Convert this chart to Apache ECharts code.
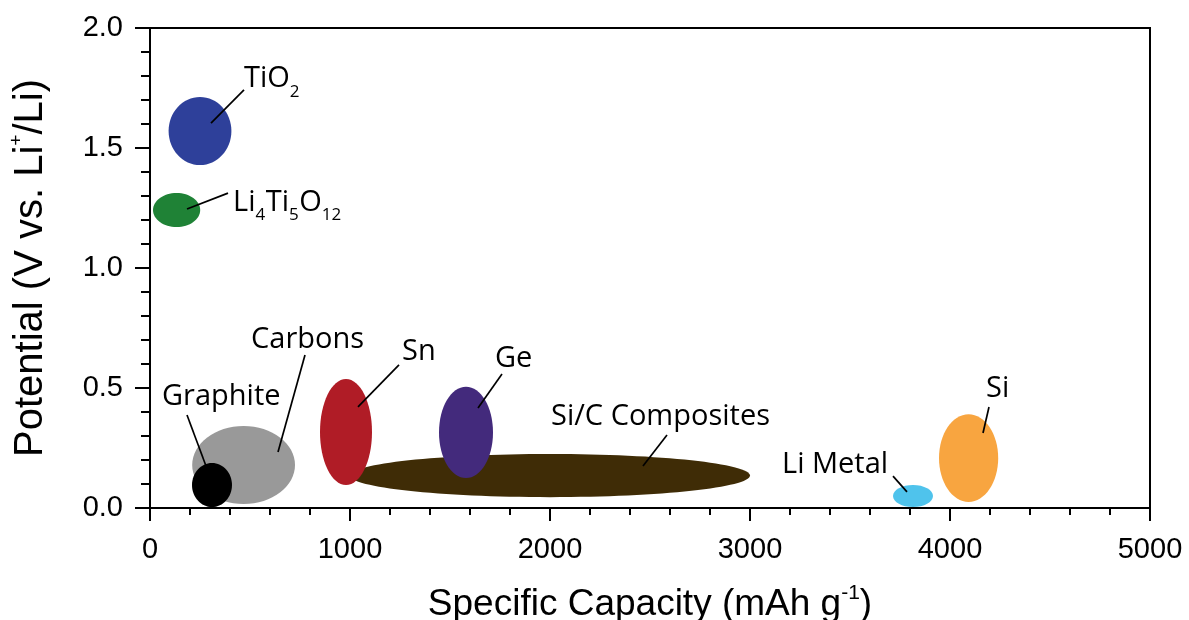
<!DOCTYPE html>
<html>
<head>
<meta charset="utf-8">
<script src="https://cdn.jsdelivr.net/npm/echarts@6/dist/echarts.min.js"></script>
<style>html,body{margin:0;padding:0;background:#fff}#c{width:1189px;height:620px}</style>
</head>
<body>
<div id="c"></div>
<script>
// ---- data (mAh/g, V vs Li+/Li) ----
const materials = ['Carbons', 'Graphite', 'Si/C Composites', 'Sn', 'Ge', 'TiO2', 'Li4Ti5O12', 'Li Metal', 'Si'];
const centerCapacity = [468, 310, 2000, 980, 1580, 250, 133, 3815, 4093];
const centerPotential = [0.179, 0.096, 0.135, 0.317, 0.315, 1.571, 1.242, 0.050, 0.208];
const capacityHalfRange = [257, 100, 1000, 130, 135, 157, 118, 100, 148];
const potentialHalfRange = [0.1625, 0.092, 0.090, 0.221, 0.190, 0.142, 0.071, 0.046, 0.183];

const labelTexts = ['Carbons', 'Graphite', 'Si/C Composites', 'Sn', 'Ge', 'TiO_{2}', 'Li_{4}Ti_{5}O_{12}', 'Li Metal', 'Si'];
const labelCapacity = [505, 60, 2005, 1260, 1725, 470, 415, 3160, 4180];
const labelPotential = [0.700, 0.4625, 0.379, 0.650, 0.621, 1.7875, 1.273, 0.179, 0.496];
const leaderStartCapacity = [775, 185, 2585, 1245, 1760, 470, 390, 3715, 4195];
const leaderStartPotential = [0.6375, 0.3875, 0.304, 0.596, 0.558, 1.742, 1.312, 0.133, 0.421];
const leaderEndCapacity = [640, 280, 2465, 1040, 1640, 305, 185, 3785, 4165];
const leaderEndPotential = [0.233, 0.175, 0.175, 0.421, 0.417, 1.604, 1.246, 0.067, 0.3125];

const xTicks = [0, 1000, 2000, 3000, 4000, 5000];
const yTicks = [0.0, 0.5, 1.0, 1.5, 2.0];

// ---- styles ----
const palette = ['#999999', '#000000', '#3f2c06', '#b01c26', '#432a7c', '#2e409a', '#1f8236', '#4fc3ec', '#f8a540'];
const annFont = 'Open Sans';
const annSize = 29;
const subSize = 17;
const subDrop = 13;

const measureCtx = document.createElement('canvas').getContext('2d');
function textWidth(t, size) {
  measureCtx.font = size + 'px "' + annFont + '"';
  return measureCtx.measureText(t).width;
}
function splitLabel(s) {
  const parts = [];
  const re = /_\{([^}]*)\}/g;
  let last = 0, m;
  while ((m = re.exec(s))) {
    if (m.index > last) parts.push([s.slice(last, m.index), false]);
    parts.push([m[1], true]);
    last = re.lastIndex;
  }
  if (last < s.length) parts.push([s.slice(last), false]);
  return parts;
}

const ellipseData = materials.map((m, i) => [centerCapacity[i], centerPotential[i], capacityHalfRange[i], potentialHalfRange[i]]);
const leaderData = materials.map((m, i) => [leaderStartCapacity[i], leaderStartPotential[i], leaderEndCapacity[i], leaderEndPotential[i]]);
const labelData = materials.map((m, i) => [labelCapacity[i], labelPotential[i], i]);

const chart = echarts.init(document.getElementById('c'), null, {renderer: 'canvas'});
chart.setOption({
  animation: false,
  backgroundColor: '#fff',
  grid: {left: 150, right: 39, top: 28, bottom: 112, containLabel: false, outerBoundsMode: 'none',
    show: true, borderColor: '#000', borderWidth: 2, backgroundColor: 'transparent'},
  xAxis: {
    type: 'value', min: xTicks[0], max: xTicks[xTicks.length - 1], interval: 1000,
    name: 'Specific Capacity (mAh g{sup|-1})', nameLocation: 'middle', nameGap: 75,
    nameTextStyle: {fontFamily: 'Liberation Sans', fontSize: 37, color: '#000', lineHeight: 44,
      rich: {sup: {fontFamily: 'Liberation Sans', fontSize: 21, color: '#000', verticalAlign: 'top', lineHeight: 14}}},
    axisLine: {show: true, lineStyle: {color: '#000', width: 2}},
    axisTick: {show: true, inside: false, length: 13, lineStyle: {color: '#000', width: 2}},
    minorTick: {show: true, splitNumber: 5, length: 7, lineStyle: {color: '#000', width: 2}},
    splitLine: {show: false},
    axisLabel: {fontFamily: 'Liberation Sans', fontSize: 29, color: '#000', margin: 27,
      formatter: v => String(v)}
  },
  yAxis: {
    type: 'value', min: yTicks[0], max: yTicks[yTicks.length - 1], interval: 0.5,
    name: 'Potential (V vs. Li{sup|+}/Li)', nameLocation: 'middle', nameGap: 95,
    nameTextStyle: {fontFamily: 'Liberation Sans', fontSize: 40, color: '#000', lineHeight: 48,
      rich: {sup: {fontFamily: 'Liberation Sans', fontSize: 19, color: '#000', verticalAlign: 'top', lineHeight: 14}}},
    axisLine: {show: true, lineStyle: {color: '#000', width: 2}},
    axisTick: {show: true, inside: false, length: 15, lineStyle: {color: '#000', width: 2}},
    minorTick: {show: true, splitNumber: 5, length: 9, lineStyle: {color: '#000', width: 2}},
    splitLine: {show: false},
    axisLabel: {fontFamily: 'Liberation Sans', fontSize: 29, color: '#000', margin: 27,
      formatter: v => v.toFixed(1)}
  },
  series: [
    {
      type: 'custom', name: 'regions', clip: false, z: 2,
      data: ellipseData,
      encode: {x: 0, y: 1},
      renderItem: (params, api) => {
        const c = api.coord([api.value(0), api.value(1)]);
        const s = api.size([api.value(2), api.value(3)]);
        return {type: 'ellipse', shape: {cx: c[0], cy: c[1], rx: s[0], ry: s[1]},
          style: {fill: palette[params.dataIndex]}};
      }
    },
    {
      type: 'custom', name: 'leaders', clip: false, z: 3,
      data: leaderData,
      encode: {x: [0, 2], y: [1, 3]},
      renderItem: (params, api) => {
        const a = api.coord([api.value(0), api.value(1)]);
        const b = api.coord([api.value(2), api.value(3)]);
        return {type: 'line', shape: {x1: a[0], y1: a[1], x2: b[0], y2: b[1]},
          style: {stroke: '#000', lineWidth: 1.7}};
      }
    },
    {
      type: 'custom', name: 'labels', clip: false, z: 4,
      data: labelData,
      encode: {x: 0, y: 1},
      renderItem: (params, api) => {
        const p = api.coord([api.value(0), api.value(1)]);
        const parts = splitLabel(labelTexts[api.value(2)]);
        const children = [];
        let cursor = 0;
        parts.forEach(([t, isSub]) => {
          const size = isSub ? subSize : annSize;
          children.push({type: 'text', x: p[0] + cursor, y: p[1] + (isSub ? subDrop : 0),
            style: {text: t, fill: '#000', fontFamily: annFont, fontSize: size,
              align: 'left', verticalAlign: 'middle'}});
          cursor += textWidth(t, size) + (isSub ? 0.5 : 0);
        });
        return {type: 'group', children: children};
      }
    }
  ]
});
</script>
</body>
</html>
